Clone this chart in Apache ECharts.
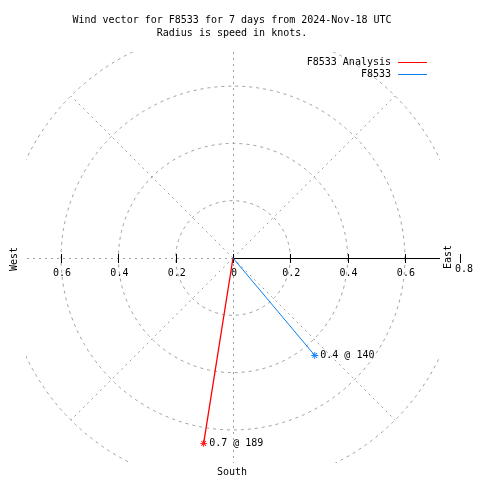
<!DOCTYPE html>
<html><head><meta charset="utf-8">
<script src="https://cdn.jsdelivr.net/npm/echarts@6/dist/echarts.min.js"></script>
<style>html,body{margin:0;padding:0;background:#fff}#c{width:480px;height:480px}</style>
</head><body><div id="c"></div>
<script>
// ---- data ----
const titleLines = ['Wind vector for F8533 for 7 days from 2024-Nov-18 UTC', 'Radius is speed in knots.'];
const seriesNames = ['F8533 Analysis', 'F8533'];
const seriesColors = ['#ff0000', '#0a7df0'];
const speeds = [0.655, 0.444];          // knots (radius)
const directions = [189, 140];          // degrees, compass bearing
const pointLabels = ['0.7 @ 189', '0.4 @ 140'];
const ringValues = [0.2, 0.4, 0.6, 0.8];
const spokeAngles = [0, 45, 90, 135, 180, 225, 270, 315];
const tickValues = [-0.6, -0.4, -0.2, 0, 0.2, 0.4, 0.6];
const tickLabels = ['0.6', '0.4', '0.2', '0', '0.2', '0.4', '0.6'];
const compassLabels = ['West', 'East', 'South'];
const outerRadius = 0.8;

const FONT = '10px "DejaVu Sans Mono", monospace';
const GRIDC = '#a0a0a0';
const starPath = 'path://M-4,-0.5H4V0.5H-4Z M-0.5,-4H0.5V4H-0.5Z M-3,-2.3L-2.3,-3L3,2.3L2.3,3Z M3,-2.3L2.3,-3L-3,2.3L-2.3,3Z';

const chart = echarts.init(document.getElementById('c'), null, {renderer: 'canvas'});

const vectorSeries = seriesNames.map((name, i) => ({
  name: name,
  type: 'line',
  coordinateSystem: 'polar',
  color: seriesColors[i],
  lineStyle: {width: i === 0 ? 1.3 : 1, color: seriesColors[i]},
  itemStyle: {color: seriesColors[i]},
  symbol: starPath,
  symbolSize: 7,
  animation: false,
  z: 10,
  data: [
    {value: [0, directions[i]], symbol: 'none'},
    {value: [speeds[i], directions[i]],
     label: {show: true, position: 'right', distance: 2, formatter: pointLabels[i],
             color: '#000', fontFamily: '"DejaVu Sans Mono", monospace', fontSize: 10}}
  ]
}));

const option = {
  backgroundColor: '#fff',
  animation: false,
  grid: {left: 26, right: 40, top: 52, bottom: 17, containLabel: false},
  xAxis: {type: 'value', min: -0.7225, max: 0.7225, show: false},
  yAxis: {type: 'value', min: -0.7155, max: 0.719, show: false},
  polar: {center: [233, 258], radius: outerRadius * 286.5},
  radiusAxis: {type: 'value', min: 0, max: outerRadius, show: false},
  angleAxis: {type: 'value', min: 0, max: 360, startAngle: 90, clockwise: true, show: false},
  legend: {
    orient: 'vertical', right: 53, top: 56.5, align: 'right', padding: 0,
    itemWidth: 29, itemHeight: 1, itemGap: 0, icon: 'rect',
    data: seriesNames,
    textStyle: {fontFamily: '"DejaVu Sans Mono", monospace', fontSize: 10, color: '#000', lineHeight: 12, padding: [0, 2, 0, 0]},
    selectedMode: false
  },
  graphic: [
    {type: 'text', x: 232, y: 20, style: {text: titleLines[0], font: FONT, fill: '#000', align: 'center', verticalAlign: 'middle'}},
    {type: 'text', x: 232, y: 33, style: {text: titleLines[1], font: FONT, fill: '#000', align: 'center', verticalAlign: 'middle'}},
    {type: 'text', x: 14, y: 259, rotation: Math.PI / 2, style: {text: compassLabels[0], font: FONT, fill: '#000', align: 'center', verticalAlign: 'middle'}},
    {type: 'text', x: 448, y: 257, rotation: Math.PI / 2, style: {text: compassLabels[1], font: FONT, fill: '#000', align: 'center', verticalAlign: 'middle'}},
    {type: 'text', x: 232, y: 472, style: {text: compassLabels[2], font: FONT, fill: '#000', align: 'center', verticalAlign: 'middle'}},
    {type: 'line', shape: {x1: 460.5, y1: 254, x2: 460.5, y2: 263}, style: {stroke: '#000', lineWidth: 1}},
    {type: 'text', x: 464, y: 269, style: {text: String(outerRadius), font: FONT, fill: '#000', align: 'center', verticalAlign: 'middle'}}
  ],
  series: [
    { // range rings
      type: 'custom', coordinateSystem: 'cartesian2d', clip: true, silent: true, z: 1,
      data: ringValues.map(v => [v, 0]),
      renderItem: function (params, api) {
        const c = api.coord([0, 0]);
        const r = api.size([api.value(0), 0])[0];
        return {type: 'circle', shape: {cx: c[0], cy: c[1], r: r},
                style: {fill: null, stroke: GRIDC, lineWidth: 1, lineDash: [3, 4]}};
      }
    },
    { // spokes
      type: 'custom', coordinateSystem: 'cartesian2d', clip: true, silent: true, z: 1,
      data: spokeAngles.map(a => [a, 0]),
      renderItem: function (params, api) {
        const a = api.value(0) * Math.PI / 180;
        const c = api.coord([0, 0]);
        const e = api.coord([outerRadius * Math.sin(a), outerRadius * Math.cos(a)]);
        const dx = (Math.abs(e[0] - c[0]) < 0.01) ? 0.5 : 0;
        const dy = (Math.abs(e[1] - c[1]) < 0.01) ? 0.5 : 0;
        return {type: 'line', shape: {x1: c[0] + dx, y1: c[1] + dy, x2: e[0] + dx, y2: e[1] + dy},
                style: {stroke: GRIDC, lineWidth: 1, lineDash: [2, 4]}};
      }
    },
    { // east axis line
      type: 'custom', coordinateSystem: 'cartesian2d', clip: false, silent: true, z: 3,
      data: [[0, 0]],
      renderItem: function (params, api) {
        const c = api.coord([0, 0]);
        const right = params.coordSys.x + params.coordSys.width;
        return {type: 'line', shape: {x1: c[0], y1: c[1] + 0.5, x2: right, y2: c[1] + 0.5},
                style: {stroke: '#000', lineWidth: 1}};
      }
    },
    { // ticks and tick labels
      type: 'custom', coordinateSystem: 'cartesian2d', clip: false, silent: true, z: 4,
      data: tickValues.map(v => [v, 0]),
      renderItem: function (params, api) {
        const p = api.coord([api.value(0), 0]);
        const x = Math.round(p[0]) + 0.5;
        return {type: 'group', children: [
          {type: 'line', shape: {x1: x, y1: p[1] - 4, x2: x, y2: p[1] + 5}, style: {stroke: '#000', lineWidth: 1}},
          {type: 'text', x: p[0] + 1, y: p[1] + 15,
           style: {text: tickLabels[params.dataIndex], font: FONT, fill: '#000', align: 'center', verticalAlign: 'middle'}}
        ]};
      }
    }
  ].concat(vectorSeries)
};
chart.setOption(option);
</script>
</body></html>
